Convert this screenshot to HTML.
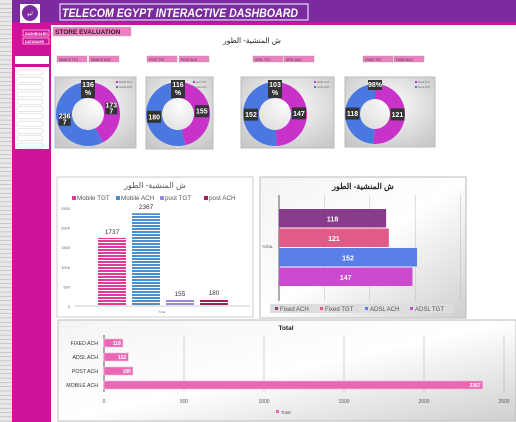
<!DOCTYPE html>
<html><head><meta charset="utf-8"><style>
body{margin:0;width:516px;height:422px;overflow:hidden;background:#fff;font-family:"Liberation Sans","Noto Sans CJK SC",sans-serif}
svg{position:absolute;left:0;top:0}
</style></head><body>
<svg width="516" height="422" id="s">
<defs>
<linearGradient id="gg" x1="0" y1="0" x2="1" y2="1"><stop offset="0" stop-color="#f4f4f4"/><stop offset="0.5" stop-color="#fff"/><stop offset="1" stop-color="#cfcfcf"/></linearGradient>
<radialGradient id="rg" cx="0.5" cy="0.4" r="0.7"><stop offset="0" stop-color="#fdfdfd"/><stop offset="1" stop-color="#c8c8c8"/></radialGradient>
<pattern id="hp" width="4" height="3" patternUnits="userSpaceOnUse"><rect width="4" height="2" fill="#e23a9a"/></pattern>
<pattern id="hb" width="4" height="3" patternUnits="userSpaceOnUse"><rect width="4" height="2" fill="#4a90d0"/></pattern>
<pattern id="hl" width="4" height="3" patternUnits="userSpaceOnUse"><rect width="4" height="2" fill="#9a86e0"/></pattern>
<pattern id="hm" width="4" height="3" patternUnits="userSpaceOnUse"><rect width="4" height="2" fill="#a0205a"/></pattern>
</defs>
<rect x="0" y="0" width="12" height="422" fill="#e8e8e8"/>
<rect x="12" y="0" width="504" height="22" fill="#7c2aa0"/>
<rect x="12" y="22" width="39" height="400" fill="#d0119a"/>
<rect x="51" y="22" width="465" height="3" fill="#d0119a"/>
<rect x="20" y="4" width="20" height="19" fill="#fff"/>
<circle cx="30" cy="13" r="8" fill="#7c2aa0"/>
<text x="30" y="15" font-size="5" fill="#fff" text-anchor="middle">ليو</text>
<rect x="60" y="4" width="248" height="16" fill="none" stroke="#fff"/>
<text x="62" y="17" font-size="12" font-weight="bold" font-style="italic" fill="#fff" textLength="236" lengthAdjust="spacingAndGlyphs">TELECOM EGYPT INTERACTIVE DASHBOARD</text>
<rect x="23" y="30" width="26" height="6" fill="#d0119a" stroke="#fff" stroke-width="0.6"/>
<text x="25" y="35" font-size="3.5" fill="#fff" font-weight="bold">DASHBOARD</text>
<rect x="23" y="38" width="26" height="6" fill="#d0119a" stroke="#fff" stroke-width="0.6"/>
<text x="25" y="43" font-size="3.5" fill="#fff" font-weight="bold">DATABASE</text>
<rect x="15" y="56" width="34" height="8" fill="#fff"/>
<rect x="15" y="67" width="34" height="82" fill="#fff"/>
<rect x="53" y="27" width="78" height="9" fill="#ee7fc0" stroke="#bbb" stroke-width="0.5"/>
<text x="55" y="34" font-size="6.5" font-weight="bold" fill="#222">STORE EVALUATION</text>
<text x="252" y="43" font-size="7.5" fill="#222" text-anchor="middle">ش المنشية- الطور</text>
<g id="btns"></g>
<g id="donuts"></g>
<rect x="57" y="177" width="196" height="140" fill="#fff" stroke="#ccc"/>
<g id="c1"></g>
<rect x="260" y="177" width="206" height="141" fill="url(#gg)" stroke="#bbb"/>
<g id="c2"></g>
<rect x="58" y="320" width="458" height="101" fill="url(#gg)" stroke="#bbb"/>
<g id="c3"></g>
</svg>
<script>
const donutLabels=[["Mobile TGT","Mobile ACH"],["post TGT","post ACH"],["ADSL TGT","ADSL ACH"],["Fixed TGT","Fixed ACH"]];
const donutTgt=[1737,155,147,121];
const donutAch=[2367,180,152,118];
const donutPct=["136 %","116 %","103 %","98%"];
const c1Cats=["Mobile TGT","Mobile ACH","post TGT","post ACH"];
const c1Vals=[1737,2367,155,180];
const c1Ticks=[0,500,1000,1500,2000,2500];
const c2Cats=["Fixed ACH","Fixed TGT","ADSL ACH","ADSL TGT"];
const c2Vals=[118,121,152,147];
const c3Cats=["FIXED ACH","ADSL ACH","POST ACH","MOBILE ACH"];
const c3Vals=[118,152,180,2367];
const c3Ticks=[0,500,1000,1500,2000,2500];
const NS="http://www.w3.org/2000/svg";
function el(p,t,a,txt){const e=document.createElementNS(NS,t);for(const k in a)e.setAttribute(k,a[k]);if(txt!==undefined)e.textContent=txt;p.appendChild(e);return e;}
const s=document.getElementById('s');
for(let y=4;y<422;y+=4.3){const l=el(s,'line',{x1:0,x2:12,y1:y,y2:y,stroke:'#999','stroke-width':0.4});}
for(let i=0;i<11;i++){const r=el(s,'rect',{x:17,y:70+i*7.3,width:26,height:5,rx:2,fill:'#fff',stroke:'#ccc','stroke-width':0.5});}
const bg=document.getElementById('btns');
const bx=[[57,89],[147,179],[253,284],[363,394]];
bx.forEach((p,i)=>{donutLabels[i].forEach((lb,j)=>{const r=el(bg,'rect',{x:p[j],y:56,width:30,height:6,fill:'#ee7fc0',stroke:'#aaa','stroke-width':0.5});el(bg,'text',{x:p[j]+2,y:61,'font-size':3.2,fill:'#333'},lb.toUpperCase());});});
const dg=document.getElementById('donuts');
const boxes=[[55,77,81,71],[146,77,67,72],[241,77,93,71],[345,77,90,70]];
boxes.forEach((b,i)=>{
 const r=el(dg,'rect',{x:b[0],y:b[1],width:b[2],height:b[3],fill:'url(#rg)',stroke:'#bbb'});
 const cx=b[0]+(i==0?33:i==1?32:i==2?34:30),cy=b[1]+37,R=i==3?30:32,ri=R*0.5;
 const tot=donutTgt[i]+donutAch[i];const a1=donutTgt[i]/tot*2*Math.PI;
 function arc(a0,a1,col,nm){const lg=a1-a0>Math.PI?1:0;
  const d=`M${cx+R*Math.sin(a0)},${cy-R*Math.cos(a0)}A${R},${R} 0 ${lg} 1 ${cx+R*Math.sin(a1)},${cy-R*Math.cos(a1)}L${cx+ri*Math.sin(a1)},${cy-ri*Math.cos(a1)}A${ri},${ri} 0 ${lg} 0 ${cx+ri*Math.sin(a0)},${cy-ri*Math.cos(a0)}Z`;
  const p=el(dg,'path',{d:d,fill:col});}
 arc(0,a1,'#c832c8','donut-tgt-slice');arc(a1,2*Math.PI-0.0001,'#4a78e0','donut-ach-slice');
 const rm=(R+ri)/2;
 [[a1/2,donutTgt[i]],[(a1+2*Math.PI)/2,donutAch[i]]].forEach(q=>{const tx=cx+rm*Math.sin(q[0]),ty=cy-rm*Math.cos(q[0]);
  const w=String(q[1]).length>3?12:14;el(dg,'rect',{x:tx-w/2,y:ty-6,width:w,height:12,fill:'#333'});
  if(String(q[1]).length>3){el(dg,'text',{x:tx,y:ty-1,'font-size':7,'font-weight':'bold',fill:'#fff','text-anchor':'middle'},String(q[1]).slice(0,3));el(dg,'text',{x:tx,y:ty+5,'font-size':7,'font-weight':'bold',fill:'#fff','text-anchor':'middle'},String(q[1]).slice(3));}
  else el(dg,'text',{x:tx,y:ty+2.5,'font-size':7,'font-weight':'bold',fill:'#fff','text-anchor':'middle'},q[1]);});
 const pp=donutPct[i].split(' ');el(dg,'rect',{x:cx-7,y:b[1]+3,width:14,height:pp.length>1?18:10,fill:'#333'});
 pp.forEach((t,k)=>el(dg,'text',{x:cx,y:b[1]+10+k*8,'font-size':7,'font-weight':'bold',fill:'#fff','text-anchor':'middle'},t));
 donutLabels[i].forEach((lb,k)=>{el(dg,'rect',{x:b[2]+b[0]-20,y:b[1]+4+k*5,width:2,height:2,fill:k?'#4a78e0':'#c832c8'});el(dg,'text',{x:b[2]+b[0]-17,y:b[1]+6+k*5,'font-size':2.5,fill:'#666'},lb);});
});
const g1=document.getElementById('c1');
const y1=v=>306-v/2500*98, x1=i=>98+i*34;
el(g1,'text',{x:155,y:188,'font-size':8,fill:'#555','text-anchor':'middle'},'ش المنشية- الطور');
const pats=['url(#hp)','url(#hb)','url(#hl)','url(#hm)'],lc=['#e23a9a','#4a90d0','#9a86e0','#a0205a'];
c1Cats.forEach((c,i)=>{el(g1,'rect',{x:72+i*44,y:196,width:4,height:4,fill:lc[i]});el(g1,'text',{x:77+i*44,y:200,'font-size':6.3,fill:'#555'},c);});
c1Ticks.forEach(t=>el(g1,'text',{x:70,y:y1(t)+2,'font-size':4,fill:'#666','text-anchor':'end'},t));
el(g1,'line',{x1:75,x2:250,y1:306,y2:306,stroke:'#ccc'});
c1Vals.forEach((v,i)=>{const r=el(g1,'rect',{x:x1(i),y:y1(v),width:28,height:306-y1(v),fill:pats[i]});
 el(g1,'text',{x:x1(i)+14,y:y1(v)-4,'font-size':6.5,fill:'#333','text-anchor':'middle'},v);});
el(g1,'text',{x:162,y:313,'font-size':3,fill:'#666','text-anchor':'middle'},'Total');
const g2=document.getElementById('c2');
const x2=v=>279+v*0.908;
el(g2,'text',{x:363,y:189,'font-size':8,'font-weight':'bold',fill:'#222','text-anchor':'middle'},'ش المنشية- الطور');
[0,50,100,150,200].forEach(t=>el(g2,'line',{x1:x2(t),x2:x2(t),y1:195,y2:301,stroke:t?'#bbb':'#333','stroke-width':t?0.5:0.8}));
const c2c=['#8a3c8c','#e05a8a','#5a80e8','#cc4ad0'];
c2Vals.forEach((v,i)=>{const yy=209+i*19.5;const r=el(g2,'rect',{x:279,y:yy,width:x2(v)-279,height:18.5,fill:c2c[i]});
 el(g2,'text',{x:(279+x2(v))/2,y:yy+12.5,'font-size':7,'font-weight':'bold',fill:'#fff','text-anchor':'middle'},v);});
el(g2,'text',{x:262,y:248,'font-size':3.5,fill:'#333'},'TOTAL');
el(g2,'rect',{x:270,y:304,width:183,height:9,fill:'#ddd'});
c2Cats.forEach((c,i)=>{el(g2,'rect',{x:275+i*45,y:307,width:3,height:3,fill:c2c[i]});el(g2,'text',{x:280+i*45,y:311,'font-size':6,fill:'#555'},c);});
const g3=document.getElementById('c3');
const x3=v=>104+v/2500*400;
el(g3,'text',{x:286,y:330,'font-size':6.5,'font-weight':'bold',fill:'#222','text-anchor':'middle'},'Total');
c3Ticks.forEach(t=>{el(g3,'line',{x1:x3(t),x2:x3(t),y1:335,y2:392,stroke:t?'#aaa':'#333','stroke-width':t?0.5:0.8});el(g3,'text',{x:x3(t),y:403,'font-size':5,fill:'#555','text-anchor':'middle'},t);});
c3Vals.forEach((v,i)=>{const yy=339+i*14;const r=el(g3,'rect',{x:104,y:yy,width:x3(v)-104,height:8,fill:'#e868b4',stroke:'#f6b6d8','stroke-width':0.6});
 el(g3,'text',{x:x3(v)-2,y:yy+6,'font-size':5,'font-weight':'bold',fill:'#fff','text-anchor':'end'},v);
 el(g3,'text',{x:98,y:yy+6,'font-size':5.2,fill:'#333','text-anchor':'end'},c3Cats[i]);});
el(g3,'rect',{x:276,y:410,width:3,height:3,fill:'#e868b4'});el(g3,'text',{x:281,y:414,'font-size':4.5,fill:'#555'},'Total');
</script>
</body></html>
